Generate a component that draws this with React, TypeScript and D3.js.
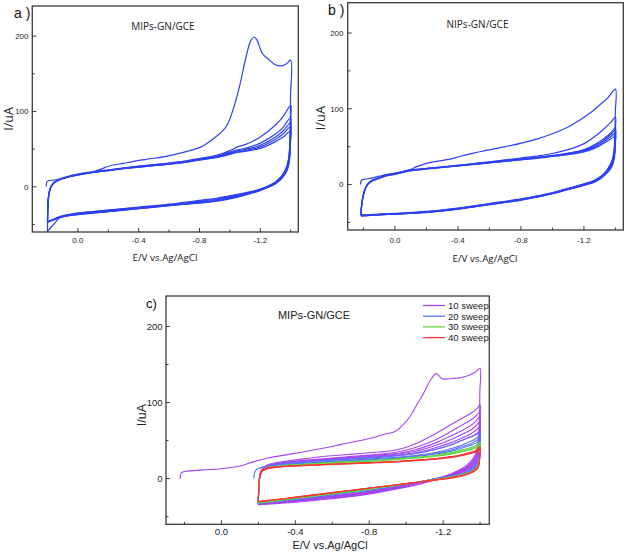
import React from "react";
import * as d3 from "d3";

// ---------------- shared axis data ----------------
const xMajorTicks = [0, -0.4, -0.8, -1.2];
const xTickLabels = ["0.0", "-0.4", "-0.8", "-1.2"];
const xMinorTicks = [0.2, -0.2, -0.6, -1.0, -1.4];
const yMajorTicks = [0, 100, 200];
const yTickLabels = ["0", "100", "200"];
const yMinorTicks = [-50, 50, 150];
const xDomain = [0.3, -1.45];
const yDomain = [-60, 240];

// ---------------- panel a (MIPs-GN/GCE) ----------------
const aFirstFwdE = [0.208, 0.205, 0.195, 0.15, 0.1, 0.05, 0, -0.1, -0.165, -0.21, -0.3, -0.36, -0.45, -0.58, -0.7, -0.8, -0.845, -0.91, -0.976, -1.02, -1.063, -1.107, -1.14, -1.162, -1.18, -1.2, -1.217, -1.25, -1.3, -1.34, -1.37, -1.4];
const aFirstFwdI = [0, 6, 8, 9, 11, 14, 16, 20, 24.5, 28, 31, 33.5, 36.5, 40.5, 46, 52, 57, 66.7, 80, 102, 133, 173, 195, 198.5, 194, 183, 176, 170, 162, 160.5, 163, 168];
const aFwdE = [0.2, 0.198, 0.193, 0.183, 0.165, 0.13, 0.08, 0, -0.1, -0.2, -0.3, -0.4, -0.5, -0.6, -0.7, -0.8, -0.9, -0.95, -1.0, -1.05, -1.1, -1.2, -1.3, -1.35, -1.4];
const aFwd2 = [-59, -32, -15, -3, 4.5, 9.5, 13, 17, 20, 22.5, 25, 27.5, 29.5, 31.5, 34, 37.5, 41, 44, 48, 53, 56, 66, 82, 93, 108];
const aFwd3 = [-47, -28, -13, -3, 4, 9, 12.5, 16.5, 19.5, 22, 24.5, 27, 29, 31, 33.5, 37, 40, 42.5, 46, 49, 51, 58, 70, 79, 92];
const aFwd4 = [-47, -27, -12, -3, 4, 9, 12.5, 16, 19.5, 22, 24.5, 26.5, 28.5, 30.5, 33, 36.5, 39.5, 42, 45, 47.5, 49.5, 55, 66, 74, 85];
const aFwd5 = [-46, -27, -12, -3, 4, 8.5, 12, 16, 19, 21.5, 24, 26, 28, 30, 32.5, 36, 39, 41, 44, 46.5, 48, 53, 63, 70, 80];
const aFwd6 = [-46, -28, -13, -3, 3.5, 8.5, 12, 15.5, 19, 21.5, 24, 26, 28, 30, 32.5, 35.5, 38.5, 40.5, 43, 45.5, 47, 51, 60, 66, 74];
const aRevE = [-1.4, -1.399, -1.397, -1.393, -1.386, -1.375, -1.355, -1.33, -1.3, -1.26, -1.2, -1.1, -1.0, -0.9, -0.8, -0.6, -0.4, -0.2, 0, 0.08, 0.12, 0.16, 0.2];
const aRev1 = [168, 120, 80, 52, 36, 26, 17, 10, 5, 0, -4, -10, -15, -19, -21.5, -24.5, -27.5, -31, -35, -38, -41, -50, -59];
const aRev2 = [108, 88, 68, 50, 37, 28, 19, 12, 6.5, 2, -3, -8, -12, -15.5, -18, -23, -27, -31, -35, -37.5, -39.5, -43, -47];
const aRev3 = [92, 76, 60, 45, 34, 26, 17.5, 11, 6, 1.5, -3.5, -9, -13, -16.5, -19, -24, -28, -32, -36, -38, -40, -43.5, -47];
const aRev4 = [85, 70, 55, 42, 32, 24, 16.5, 10, 5, 1, -4, -9.5, -14, -17.5, -20, -24.5, -28.5, -32.5, -36, -38.5, -40.5, -43.5, -46];
const aRev5 = [80, 66, 52, 40, 30, 23, 15.5, 9.5, 4.5, 0.5, -4.5, -10, -15, -18.5, -21, -25, -29, -33, -36.5, -39, -41, -44, -46];
const aRev6 = [74, 61, 48, 37, 28, 21, 14.5, 8.5, 4, 0, -5, -11, -16, -19.5, -21.5, -25, -29, -33, -37, -39, -41, -44, -47];

// ---------------- panel b (NIPs-GN/GCE) ----------------
const bFirstFwdE = [0.218, 0.216, 0.21, 0.19, 0.15, 0.1, 0.05, 0, -0.1, -0.13, -0.2, -0.26, -0.35, -0.41, -0.5, -0.556, -0.7, -0.81, -0.9, -1.0, -1.1, -1.17, -1.25, -1.3, -1.35, -1.4];
const bFirstFwdI = [0, 4, 6, 7, 8.5, 11, 13.5, 15, 20, 23, 28, 30.5, 33.5, 37, 41.5, 44, 50, 55, 60, 67, 76, 84.6, 96, 105, 114, 126];
const bFwdE = [0.215, 0.213, 0.207, 0.195, 0.175, 0.145, 0.1, 0.06, 0, -0.1, -0.2, -0.3, -0.4, -0.5, -0.6, -0.7, -0.8, -0.9, -1.0, -1.1, -1.2, -1.28, -1.33, -1.37, -1.4];
const bFwd2 = [-40, -30, -20, -9, 0, 5.5, 9, 12, 14.5, 19, 21.5, 23.5, 25.5, 27.5, 30, 32.5, 35, 37.5, 41, 46, 54, 65, 74, 82, 89];
const bFwd3 = [-40, -30, -20, -9, 0.5, 5.5, 9, 12, 14.5, 19, 21, 23, 25, 27.5, 29.5, 32, 34, 36, 38.5, 41.5, 46, 54, 61, 68, 75];
const bFwd4 = [-41, -31, -21, -9.5, 0, 5, 8.5, 11.5, 14, 18.5, 21, 23, 25, 27, 29, 31.5, 33.5, 35.5, 38, 41, 45, 52, 59, 66, 72];
const bFwd5 = [-41, -31, -21, -10, 0, 5, 8.5, 11.5, 14, 18.5, 20.5, 22.5, 24.5, 26.5, 28.5, 31, 33, 35, 37.5, 40, 44, 50, 57, 63, 68];
const bFwd6 = [-41.5, -31, -21, -10, -0.5, 4.5, 8, 11, 13.5, 18, 20.5, 22.5, 24.5, 26.5, 28.5, 30.5, 32.5, 34.5, 37, 39.5, 43, 49, 55, 60, 64];
const bRevE = [-1.4, -1.399, -1.397, -1.393, -1.386, -1.375, -1.355, -1.33, -1.3, -1.26, -1.2, -1.1, -1.0, -0.9, -0.8, -0.6, -0.4, -0.2, 0, 0.1, 0.18, 0.215];
const bRev1 = [126, 95, 70, 50, 38, 30, 22, 15, 10, 5, 1, -5, -10.5, -15, -19, -25, -31, -35.5, -38, -39, -40, -40];
const bRev2 = [89, 72, 58, 45, 36, 29, 21, 14.5, 9, 4.5, 0.5, -5.5, -11, -15.5, -19.5, -25.5, -31.5, -36, -38.5, -39.5, -40.5, -40];
const bRev3 = [75, 62, 50, 41, 33, 27, 19.5, 13.5, 8.5, 4, 0, -6, -11.5, -16, -20, -26, -32, -36.5, -38.5, -39.5, -40.5, -41];
const bRev4 = [72, 60, 48, 39, 32, 26, 19, 13, 8, 3.5, -0.5, -6, -11.5, -16, -20, -26, -32, -36.5, -39, -40, -41, -41];
const bRev5 = [68, 56, 45, 37, 30, 24.5, 18, 12.5, 7.5, 3, -1, -6.5, -12, -16.5, -20.5, -26.5, -32, -36.5, -39, -40, -41, -41.5];
const bRev6 = [64, 53, 43, 35, 28.5, 23, 17, 12, 7, 2.5, -1, -6.5, -12, -16.5, -20.5, -26.5, -32.5, -37, -39, -40, -41, -41.5];

// ---------------- panel c (sweeps) ----------------
const sweepLabels = ["10 sweep", "20 sweep", "30 sweep", "40 sweep"];
const sweepColors = ["#a444f2", "#5a74ff", "#62d840", "#ff3434"];

const cP1FwdE = [0.224, 0.222, 0.215, 0.2, 0.15, 0.1, 0.0, -0.1, -0.17, -0.26, -0.38, -0.55, -0.65, -0.79, -0.88, -0.94, -0.98, -1.022, -1.06, -1.094, -1.125, -1.148, -1.16, -1.175, -1.19, -1.21, -1.25, -1.3, -1.35, -1.38, -1.4];
const cP1FwdI = [0, 5, 8, 9.5, 10.5, 11.5, 13, 16.5, 22, 27.5, 32.5, 40, 45, 52, 58, 62, 70, 82, 98, 112, 127, 135, 138, 136, 132, 130.8, 131.5, 133, 137, 141, 145];
const cBl1FwdE = [-0.175, -0.177, -0.182, -0.19, -0.205, -0.23, -0.26, -0.3, -0.35, -0.45, -0.55, -0.65, -0.75, -0.85, -0.95, -1.05, -1.15, -1.25, -1.3, -1.35, -1.38, -1.4];
const cBl1FwdI = [0, 5, 9, 12, 14, 15.5, 17, 18.5, 20, 22, 24, 25.5, 27, 28.5, 30, 33, 38, 45, 50, 55, 58, 61];
const cR1FwdE = [-0.207, -0.209, -0.214, -0.222, -0.235, -0.26, -0.3, -0.35, -0.45, -0.55, -0.65, -0.75, -0.85, -0.95, -1.05, -1.15, -1.25, -1.3, -1.35, -1.38, -1.4];
const cR1FwdI = [0, 5, 9, 11.5, 13, 14.5, 15.5, 16.5, 17.5, 18.5, 19.5, 20.5, 21.5, 22.5, 24, 26, 29, 31.5, 34.5, 37.5, 42];

const cFwdE = [-0.2, -0.201, -0.204, -0.21, -0.22, -0.24, -0.28, -0.35, -0.45, -0.55, -0.65, -0.75, -0.85, -0.95, -1.05, -1.15, -1.25, -1.3, -1.35, -1.38, -1.4];
const cP2Fwd = [-34.5, -20, -4, 7, 13, 17, 20, 23, 26, 29, 31, 33, 35, 38, 46, 58, 72, 79, 86, 91, 97];
const cP3Fwd = [-34, -20, -4, 6, 12, 16, 19, 21.5, 24, 26, 28, 30, 32, 35, 41, 50, 63, 70, 77, 83, 88];
const cP4Fwd = [-34, -19, -4, 6, 12, 15.5, 18.5, 21, 23, 25, 27, 29, 31, 33, 38, 46, 57, 63, 70, 76, 82];
const cP5Fwd = [-33, -19, -4, 5, 11, 15, 18, 20.5, 22.5, 24.5, 26, 28, 30, 32, 36, 43, 52, 58, 64, 70, 75];
const cP6Fwd = [-33, -19, -4, 5, 11, 15, 18, 20, 22, 24, 25.5, 27, 29, 31, 34, 40, 48, 53, 59, 64, 68];
const cP7Fwd = [-33, -19, -4, 5, 11, 14.5, 17.5, 20, 22, 23.5, 25, 26.5, 28, 30, 33, 38, 45, 50, 55, 59, 63];
const cBl2Fwd = [-32.5, -19, -4, 5, 10.5, 14, 16.5, 18.5, 20.5, 22, 23.5, 25, 26.5, 28, 30.5, 34, 40, 44, 49, 53, 57];
const cBl3Fwd = [-33, -19, -4, 5, 10.5, 14, 16.5, 18.5, 20, 21.5, 23, 24.5, 26, 27.5, 30, 33, 38, 42, 46, 50, 53];
const cBl4Fwd = [-33, -19, -4, 5, 10.5, 14, 16, 18, 19.5, 21, 22.5, 24, 25.5, 27, 29, 32, 36.5, 40, 44, 47, 50];
const cG1Fwd = [-32, -18, -4, 5, 10, 13.5, 15.5, 17.5, 19, 20.5, 22, 23, 24.5, 26, 28, 30.5, 34.5, 37.5, 41, 44, 48];
const cG2Fwd = [-32, -18, -4, 5, 10, 13.5, 15.5, 17.5, 19, 20.5, 21.5, 22.5, 24, 25.5, 27.5, 30, 33.5, 36, 39.5, 42, 45];
const cG3Fwd = [-31.5, -18, -4, 4.5, 10, 13, 15, 17, 18.5, 20, 21, 22, 23.5, 25, 27, 29, 32.5, 35, 38, 40.5, 43];
const cR2Fwd = [-30.5, -17, -3.5, 4.5, 9.5, 12.5, 14.5, 16, 17.5, 18.5, 19.5, 20.5, 21.5, 22.5, 24, 26, 29, 31, 34, 36.5, 40];
const cR3Fwd = [-30, -17, -3.5, 4.5, 9.5, 12.5, 14.5, 16, 17, 18, 19, 20, 21, 22, 23.5, 25.5, 28, 30, 33, 35.5, 38];

const cRevE = [-1.4, -1.399, -1.397, -1.393, -1.386, -1.375, -1.355, -1.33, -1.3, -1.25, -1.15, -1.05, -0.95, -0.85, -0.75, -0.65, -0.55, -0.45, -0.35, -0.25, -0.2];
const cP1Rev = [145, 115, 85, 60, 42, 32, 24, 18, 13, 7, -2, -8.5, -13.5, -18, -22, -25, -27.5, -30, -32, -33.5, -34.5];
const cP2Rev = [97, 82, 66, 50, 38, 29, 22, 16.5, 12, 6.5, -1, -7, -12.5, -17, -21, -24, -26.5, -29, -31, -33, -34];
const cP3Rev = [88, 75, 60, 46, 35, 27, 20.5, 15.5, 11, 6, -1, -6.5, -12, -16.5, -20.5, -23.5, -26, -28.5, -30.5, -32.5, -34];
const cP4Rev = [82, 69, 55, 42, 32, 25, 19, 14, 10, 5.5, -1, -6.5, -11.5, -16, -20, -23, -25.5, -28, -30, -32, -33];
const cP5Rev = [75, 63, 50, 38, 29, 23, 17.5, 13, 9, 5, -0.5, -6, -11, -15.5, -19.5, -22.5, -25, -27.5, -29.5, -31.5, -33];
const cP6Rev = [68, 57, 45, 34, 26, 21, 16, 12, 8.5, 4.5, -0.5, -5.5, -10.5, -15, -19, -22, -24.5, -27, -29, -31.5, -33];
const cP7Rev = [63, 52, 41, 31, 24, 19, 14.5, 11, 8, 4, -0.5, -5.5, -10, -14.5, -18.5, -21.5, -24, -26.5, -29, -31, -32.5];
const cBl1Rev = [61, 50, 39, 29, 22, 17, 13, 9.5, 6.5, 3.5, -1, -5, -9, -13.5, -17, -20, -23, -26, -28.5, -31, -33];
const cBl2Rev = [57, 47, 36, 27, 20, 15.5, 12, 9, 6, 3, -1, -5, -9, -13, -16.5, -19.5, -22.5, -25.5, -28.5, -31, -33];
const cBl3Rev = [53, 43, 33, 25, 18.5, 14.5, 11, 8.5, 5.5, 3, -1, -5, -9, -13, -16.5, -19.5, -22.5, -25.5, -28.5, -31, -32.5];
const cBl4Rev = [50, 40, 31, 23, 17, 13.5, 10.5, 8, 5, 2.5, -1.5, -5, -9, -12.5, -16, -19, -22, -25, -28, -30.5, -32];
const cG1Rev = [48, 38, 29, 21, 16, 12.5, 10, 7.5, 5, 2.5, -1.5, -5, -8.5, -12, -15.5, -18.5, -21.5, -24.5, -27.5, -30.5, -32];
const cG2Rev = [45, 36, 27, 20, 15, 12, 9.5, 7, 4.5, 2, -1.5, -5, -8.5, -12, -15.5, -18.5, -21.5, -24.5, -27.5, -30, -31.5];
const cG3Rev = [43, 34, 26, 19, 14.5, 11.5, 9, 6.5, 4, 2, -1.5, -5, -8.5, -12, -15, -18, -21, -24, -27, -30, -31.5];
const cR1Rev = [42, 33, 25, 18.5, 14, 11.5, 9, 6.5, 4, 1.5, -2, -5, -8, -11, -14, -17, -20, -23, -26, -29, -30.5];
const cR2Rev = [40, 32, 24, 18, 13.5, 11, 8.5, 6, 3.5, 1.5, -2, -5, -8, -11, -14, -17, -20, -23, -26, -29, -30];
const cR3Rev = [38, 30, 23, 17, 13, 10.5, 8, 5.5, 3.5, 1, -2, -5, -8, -11, -14, -17, -20, -23, -26, -28.5, -30];

// ---------------- helpers ----------------
type Cycle = { fE: number[]; fI: number[]; rE: number[]; rI: number[]; color: string };
const cyc = (fE: number[], fI: number[], rE: number[], rI: number[], color: string): Cycle => ({ fE, fI, rE, rI, color });

function cyclePoints(c: Cycle): [number, number][] {
  const pts: [number, number][] = [];
  c.fE.forEach((e, i) => pts.push([e, c.fI[i]]));
  c.rE.forEach((e, i) => {
    if (i === 0) return;
    pts.push([e, c.rI[i]]);
  });
  return pts;
}

const abBlue = "#2d41f2";

const aCycles: Cycle[] = [
  cyc(aFirstFwdE, aFirstFwdI, aRevE, aRev1, abBlue),
  cyc(aFwdE, aFwd2, aRevE, aRev2, abBlue),
  cyc(aFwdE, aFwd3, aRevE, aRev3, abBlue),
  cyc(aFwdE, aFwd4, aRevE, aRev4, abBlue),
  cyc(aFwdE, aFwd5, aRevE, aRev5, abBlue),
  cyc(aFwdE, aFwd6, aRevE, aRev6, abBlue),
];
const bCycles: Cycle[] = [
  cyc(bFirstFwdE, bFirstFwdI, bRevE, bRev1, abBlue),
  cyc(bFwdE, bFwd2, bRevE, bRev2, abBlue),
  cyc(bFwdE, bFwd3, bRevE, bRev3, abBlue),
  cyc(bFwdE, bFwd4, bRevE, bRev4, abBlue),
  cyc(bFwdE, bFwd5, bRevE, bRev5, abBlue),
  cyc(bFwdE, bFwd6, bRevE, bRev6, abBlue),
];
const [cPurple, cBlue, cGreen, cRed] = sweepColors;
const cCycles: Cycle[] = [
  cyc(cP1FwdE, cP1FwdI, cRevE, cP1Rev, cPurple),
  cyc(cFwdE, cP2Fwd, cRevE, cP2Rev, cPurple),
  cyc(cFwdE, cP3Fwd, cRevE, cP3Rev, cPurple),
  cyc(cFwdE, cP4Fwd, cRevE, cP4Rev, cPurple),
  cyc(cFwdE, cP5Fwd, cRevE, cP5Rev, cPurple),
  cyc(cFwdE, cP6Fwd, cRevE, cP6Rev, cPurple),
  cyc(cFwdE, cP7Fwd, cRevE, cP7Rev, cPurple),
  cyc(cBl1FwdE, cBl1FwdI, cRevE, cBl1Rev, cBlue),
  cyc(cFwdE, cBl2Fwd, cRevE, cBl2Rev, cBlue),
  cyc(cFwdE, cBl3Fwd, cRevE, cBl3Rev, cBlue),
  cyc(cFwdE, cBl4Fwd, cRevE, cBl4Rev, cBlue),
  cyc(cFwdE, cG1Fwd, cRevE, cG1Rev, cGreen),
  cyc(cFwdE, cG2Fwd, cRevE, cG2Rev, cGreen),
  cyc(cFwdE, cG3Fwd, cRevE, cG3Rev, cGreen),
  cyc(cR1FwdE, cR1FwdI, cRevE, cR1Rev, cRed),
  cyc(cFwdE, cR2Fwd, cRevE, cR2Rev, cRed),
  cyc(cFwdE, cR3Fwd, cRevE, cR3Rev, cRed),
];

type PanelCfg = {
  left: number; right: number; top: number; bottom: number;
  tickFont: number; tickFamily: string; yTickRight: number; xTickBase: number;
  letter: string; letterX: number; letterY: number; letterSize: number;
  title: string; titleX: number; titleY: number; titleSize: number;
  xLabelX: number; xLabelY: number; xLabelSize: number;
  yLabelX: number; yLabelY: number; yLabelSize: number;
  labelFamily: string; lineWidth: number;
};

const axisColor = "#3a3a3a";

function Panel({ cfg, cycles }: { cfg: PanelCfg; cycles: Cycle[] }) {
  const x = d3.scaleLinear().domain(xDomain).range([cfg.left, cfg.right]);
  const y = d3.scaleLinear().domain(yDomain).range([cfg.bottom, cfg.top]);
  const line = d3
    .line<[number, number]>()
    .x((d) => x(d[0]))
    .y((d) => y(d[1]))
    .curve(d3.curveCatmullRom.alpha(0.5));
  const majorLen = 4;
  const minorLen = 2.5;
  return (
    <g>
      {cycles.map((c, i) => (
        <path key={i} d={line(cyclePoints(c)) || ""} fill="none" stroke={c.color} strokeWidth={cfg.lineWidth} strokeLinejoin="round" />
      ))}
      <rect x={cfg.left} y={cfg.top} width={cfg.right - cfg.left} height={cfg.bottom - cfg.top} fill="none" stroke={axisColor} strokeWidth={1.3} />
      {xMajorTicks.map((t, i) => (
        <g key={"xm" + i}>
          <line x1={x(t)} x2={x(t)} y1={cfg.bottom} y2={cfg.bottom - majorLen} stroke={axisColor} strokeWidth={1} />
          <text x={x(t)} y={cfg.xTickBase} textAnchor="middle" fontSize={cfg.tickFont} fontFamily={cfg.tickFamily} fill="#222">
            {xTickLabels[i]}
          </text>
        </g>
      ))}
      {xMinorTicks.map((t, i) => (
        <line key={"xn" + i} x1={x(t)} x2={x(t)} y1={cfg.bottom} y2={cfg.bottom - minorLen} stroke={axisColor} strokeWidth={1} />
      ))}
      {yMajorTicks.map((t, i) => (
        <g key={"ym" + i}>
          <line x1={cfg.left} x2={cfg.left + majorLen} y1={y(t)} y2={y(t)} stroke={axisColor} strokeWidth={1} />
          <text x={cfg.yTickRight} y={y(t)} dy="0.35em" textAnchor="end" fontSize={cfg.tickFont} fontFamily={cfg.tickFamily} fill="#222">
            {yTickLabels[i]}
          </text>
        </g>
      ))}
      {yMinorTicks.map((t, i) => (
        <line key={"yn" + i} x1={cfg.left} x2={cfg.left + minorLen} y1={y(t)} y2={y(t)} stroke={axisColor} strokeWidth={1} />
      ))}
      <text x={cfg.letterX} y={cfg.letterY} fontSize={cfg.letterSize} fontFamily="Liberation Sans, Arial, sans-serif" fill="#111">
        {cfg.letter}
      </text>
      <text x={cfg.titleX} y={cfg.titleY} textAnchor="middle" fontSize={cfg.titleSize} fontFamily={cfg.labelFamily} fill="#222">
        {cfg.title}
      </text>
      <text x={cfg.xLabelX} y={cfg.xLabelY} textAnchor="middle" fontSize={cfg.xLabelSize} fontFamily={cfg.labelFamily} fill="#222">
        E/V vs.Ag/AgCl
      </text>
      <text transform={`translate(${cfg.yLabelX},${cfg.yLabelY}) rotate(-90)`} textAnchor="middle" fontSize={cfg.yLabelSize} fontFamily={cfg.labelFamily} fill="#222">
        I/uA
      </text>
    </g>
  );
}

const openSans = "Open Sans, DejaVu Sans, sans-serif";
const arial = "Liberation Sans, Arial, sans-serif";

const cfgA: PanelCfg = {
  left: 32.3, right: 298.3, top: 6, bottom: 232,
  tickFont: 8, tickFamily: arial, yTickRight: 28.5, xTickBase: 242.5,
  letter: "a )", letterX: 14, letterY: 18.3, letterSize: 14,
  title: "MIPs-GN/GCE", titleX: 163, titleY: 29.5, titleSize: 10,
  xLabelX: 165, xLabelY: 260.5, xLabelSize: 9.8,
  yLabelX: 13, yLabelY: 119, yLabelSize: 12.5,
  labelFamily: openSans, lineWidth: 1.2,
};
const cfgB: PanelCfg = {
  left: 347.7, right: 623.3, top: 2.7, bottom: 230,
  tickFont: 8, tickFamily: arial, yTickRight: 343.5, xTickBase: 243,
  letter: "b )", letterX: 328, letterY: 15, letterSize: 14,
  title: "NIPs-GN/GCE", titleX: 477.5, titleY: 28, titleSize: 10,
  xLabelX: 485, xLabelY: 261.5, xLabelSize: 9.8,
  yLabelX: 325, yLabelY: 118, yLabelSize: 13,
  labelFamily: openSans, lineWidth: 1.2,
};
const cfgC: PanelCfg = {
  left: 166, right: 489.3, top: 296, bottom: 524.3,
  tickFont: 9.5, tickFamily: arial, yTickRight: 162.5, xTickBase: 534.5,
  letter: "c)", letterX: 146, letterY: 308, letterSize: 13,
  title: "MIPs-GN/GCE", titleX: 314, titleY: 319, titleSize: 11,
  xLabelX: 330, xLabelY: 549, xLabelSize: 11,
  yLabelX: 145.5, yLabelY: 415, yLabelSize: 12.5,
  labelFamily: arial, lineWidth: 1.1,
};

function Legend() {
  const x0 = 423;
  const x1 = 445;
  const y0 = 305.5;
  const dy = 10.7;
  return (
    <g>
      {sweepLabels.map((lab, i) => (
        <g key={lab}>
          <line x1={x0} x2={x1} y1={y0 + i * dy} y2={y0 + i * dy} stroke={sweepColors[i]} strokeWidth={1.3} />
          <text x={x1 + 3} y={y0 + i * dy} dy="0.35em" fontSize={9.5} fontFamily={arial} fill="#222">
            {lab}
          </text>
        </g>
      ))}
    </g>
  );
}

export default function App() {
  return (
    <svg width={626} height={555} style={{ position: "absolute", left: 0, top: 0, background: "#fff" }}>
      <rect x={0} y={0} width={626} height={555} fill="#fff" />
      <Panel cfg={cfgA} cycles={aCycles} />
      <Panel cfg={cfgB} cycles={bCycles} />
      <Panel cfg={cfgC} cycles={cCycles} />
      <Legend />
    </svg>
  );
}
